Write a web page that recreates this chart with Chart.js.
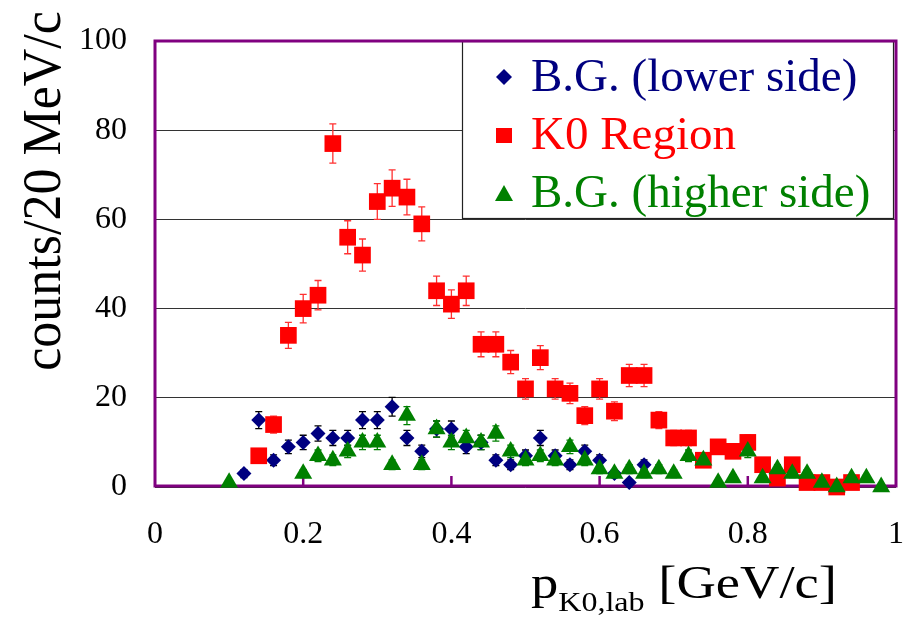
<!DOCTYPE html>
<html>
<head>
<meta charset="utf-8">
<script src="https://cdn.jsdelivr.net/npm/chart.js@4.4.1/dist/chart.umd.min.js"></script>
<style>
  html, body { margin: 0; padding: 0; background: #fff; }
  canvas { display: block; }
</style>
</head>
<body>
<canvas id="c" width="916" height="626"></canvas>
<script>
const seriesNames = ['B.G. (lower side)', 'K0 Region', 'B.G. (higher side)'];

// B.G. lower side
const xLow = [0.12, 0.14, 0.16, 0.18, 0.20, 0.22, 0.24, 0.26, 0.28, 0.30, 0.32, 0.34, 0.36, 0.38,
              0.40, 0.42, 0.44, 0.46, 0.48, 0.50, 0.52, 0.54, 0.56, 0.58, 0.60, 0.62, 0.64, 0.66];
const yLow = [3, 15, 6, 9, 10, 12, 11, 11, 15, 15, 18, 11, 8, 13,
              13, 9, 10, 6, 5, 7, 11, 7, 5, 8, 6, 3, 1, 5];
const eLow = [0.9, 1.9, 1.2, 1.5, 1.6, 1.7, 1.7, 1.7, 1.9, 1.9, 2.1, 1.7, 1.4, 1.8,
              1.8, 1.5, 1.6, 1.2, 1.1, 1.3, 1.7, 1.3, 1.1, 1.4, 1.2, 0.9, 0.5, 1.1];

// K0 region
const xK0 = [0.14, 0.16, 0.18, 0.20, 0.22, 0.24, 0.26, 0.28, 0.30, 0.32, 0.34, 0.36, 0.38, 0.40,
             0.42, 0.44, 0.46, 0.48, 0.50, 0.52, 0.54, 0.56, 0.58, 0.60, 0.62, 0.64, 0.66, 0.68,
             0.70, 0.72, 0.74, 0.76, 0.78, 0.80, 0.82, 0.84, 0.86, 0.88, 0.90, 0.92, 0.94];
const yK0 = [7, 14, 34, 40, 43, 77, 56, 52, 64, 67, 65, 59, 44, 41,
             44, 32, 32, 28, 22, 29, 22, 21, 16, 22, 17, 25, 25, 15,
             11, 11, 6, 9, 8, 10, 5, 2, 5, 1, 1, 0, 1];
const eK0 = [1.3, 1.9, 2.9, 3.2, 3.3, 4.4, 3.7, 3.6, 4.0, 4.1, 4.0, 3.8, 3.3, 3.2,
             3.3, 2.8, 2.8, 2.6, 2.3, 2.7, 2.3, 2.3, 2.0, 2.3, 2.1, 2.5, 2.5, 1.9,
             1.7, 1.7, 1.2, 1.5, 1.4, 1.6, 1.1, 0.7, 1.1, 0.5, 0.5, 0, 0.5];

// B.G. higher side
const xHigh = [0.10, 0.20, 0.22, 0.24, 0.26, 0.28, 0.30, 0.32, 0.34, 0.36, 0.38, 0.40, 0.42, 0.44,
               0.46, 0.48, 0.50, 0.52, 0.54, 0.56, 0.58, 0.60, 0.62, 0.64, 0.66, 0.68, 0.70, 0.72,
               0.74, 0.76, 0.78, 0.80, 0.82, 0.84, 0.86, 0.88, 0.90, 0.92, 0.94, 0.96, 0.98];
const yHigh = [1, 3, 7, 6, 8, 10, 10, 5, 16, 5, 13, 10, 11, 10,
               12, 8, 6, 7, 6, 9, 6, 4, 3, 4, 3, 4, 3, 7,
               6, 1, 2, 8, 2, 4, 3, 3, 1, 0, 2, 2, 0];
const eHigh = [0.5, 0.9, 1.3, 1.2, 1.4, 1.6, 1.6, 1.1, 2.0, 1.1, 1.8, 1.6, 1.7, 1.6,
               1.7, 1.4, 1.2, 1.3, 1.2, 1.5, 1.2, 1.0, 0.9, 1.0, 0.9, 1.0, 0.9, 1.3,
               1.2, 0.5, 0.7, 1.4, 0.7, 1.0, 0.9, 0.9, 0.5, 0, 0.7, 0.7, 0];

const xTicks = [0.2, 0.4, 0.6, 0.8];

const NAVY = '#000080', RED = '#ff0000', GREEN = '#008000', PURPLE = '#800080';
const serif = '"Liberation Serif", "DejaVu Serif", serif';

const toPoints = (xs, ys) => xs.map((x, i) => ({ x: x, y: ys[i] }));
const errSets = [eLow, eK0, eHigh];
const errColors = ['#000000', '#ff3030', GREEN];

function marker(ctx, style, x, y, color) {
  ctx.fillStyle = color;
  ctx.beginPath();
  if (style === 'rectRot') {
    ctx.moveTo(x, y - 8); ctx.lineTo(x + 8, y); ctx.lineTo(x, y + 8); ctx.lineTo(x - 8, y);
  } else if (style === 'rect') {
    ctx.rect(x - 8, y - 8, 16, 15);
  } else {
    ctx.moveTo(x, y - 9); ctx.lineTo(x + 9, y + 7); ctx.lineTo(x - 9, y + 7);
  }
  ctx.closePath();
  ctx.fill();
}

const decor = {
  id: 'decor',
  beforeDatasetsDraw(chart) {
    const { ctx, chartArea: a, scales: { x, y } } = chart;
    ctx.save();

    // error bars
    chart.data.datasets.forEach((ds, i) => {
      const errs = errSets[i];
      ctx.strokeStyle = errColors[i];
      ctx.lineWidth = 1.3;
      ds.data.forEach((p, j) => {
        const e = errs[j];
        if (!e) return;
        const px = x.getPixelForValue(p.x);
        const top = y.getPixelForValue(p.y + e);
        const bot = y.getPixelForValue(Math.max(0, p.y - e));
        ctx.beginPath();
        ctx.moveTo(px, top); ctx.lineTo(px, bot);
        ctx.moveTo(px - 3.5, top); ctx.lineTo(px + 3.5, top);
        ctx.moveTo(px - 3.5, bot); ctx.lineTo(px + 3.5, bot);
        ctx.stroke();
      });
    });

    // legend box
    const lx = 462, ly = 41, lw = 431, lh = 177;
    ctx.fillStyle = '#fff';
    ctx.fillRect(lx, ly, lw, lh);
    ctx.strokeStyle = '#222';
    ctx.lineWidth = 1.2;
    ctx.strokeRect(lx + 0.5, ly + 0.5, lw, lh);
    const rows = [
      { style: 'rectRot', color: NAVY, my: 77, by: 91 },
      { style: 'rect', color: RED, my: 136, by: 149 },
      { style: 'triangle', color: GREEN, my: 194, by: 207 }
    ];
    ctx.font = '47px ' + serif;
    ctx.textAlign = 'left';
    ctx.textBaseline = 'alphabetic';
    rows.forEach((r, i) => {
      marker(ctx, r.style, 504, r.my, r.color);
      ctx.fillStyle = r.color;
      ctx.fillText(seriesNames[i], 531, r.by);
    });

    // purple frame and inward ticks
    ctx.strokeStyle = PURPLE;
    ctx.lineWidth = 3;
    ctx.strokeRect(a.left, a.top, a.right - a.left, a.bottom - a.top - 1);
    ctx.lineWidth = 2.5;
    xTicks.forEach(v => {
      const px = x.getPixelForValue(v);
      ctx.beginPath();
      ctx.moveTo(px, a.bottom - 1);
      ctx.lineTo(px, a.bottom - 11);
      ctx.stroke();
    });
    ctx.restore();
  },
  afterDraw(chart) {
    const { ctx } = chart;
    ctx.save();
    ctx.fillStyle = '#000';

    // y title
    ctx.save();
    ctx.translate(60, 191);
    ctx.rotate(-Math.PI / 2);
    ctx.scale(1, 1.07);
    ctx.font = '52px ' + serif;
    ctx.textAlign = 'center';
    ctx.textBaseline = 'alphabetic';
    ctx.fillText('counts/20 MeV/c', 0, 0);
    ctx.restore();

    // x title with subscript
    const big = '46px ' + serif, small = '27px ' + serif;
    ctx.font = big;
    const wp = ctx.measureText('p').width;
    const wr = ctx.measureText(' [GeV/c]').width;
    ctx.font = small;
    const ws = ctx.measureText('K0,lab').width;
    const sx = 306 / (wp + ws + wr);
    ctx.translate(531, 598);
    ctx.scale(sx, 1);
    ctx.textAlign = 'left';
    ctx.font = big;
    ctx.fillText('p', 0, 0);
    ctx.font = small;
    ctx.fillText('K0,lab', wp, 13);
    ctx.font = big;
    ctx.fillText(' [GeV/c]', wp + ws, 0);
    ctx.restore();
  }
};

new Chart(document.getElementById('c'), {
  type: 'scatter',
  data: {
    datasets: [
      {
        label: seriesNames[0],
        data: toPoints(xLow, yLow),
        pointStyle: 'rectRot',
        pointRadius: 7.5,
        backgroundColor: NAVY,
        borderColor: NAVY,
        borderWidth: 0,
        clip: false,
        order: 3
      },
      {
        label: seriesNames[1],
        data: toPoints(xK0, yK0),
        pointStyle: 'rect',
        pointRadius: 11.8,
        backgroundColor: RED,
        borderColor: RED,
        borderWidth: 0,
        clip: false,
        order: 2
      },
      {
        label: seriesNames[2],
        data: toPoints(xHigh, yHigh),
        pointStyle: 'triangle',
        pointRadius: 10.4,
        backgroundColor: GREEN,
        borderColor: GREEN,
        borderWidth: 0,
        clip: false,
        order: 1
      }
    ]
  },
  options: {
    responsive: false,
    animation: false,
    events: [],
    layout: { padding: { left: 0, right: 20, top: 41, bottom: 0 } },
    plugins: {
      legend: { display: false },
      tooltip: { enabled: false }
    },
    scales: {
      x: {
        type: 'linear',
        min: 0,
        max: 1,
        afterFit: s => { s.height = 139; s.paddingLeft = 0; s.paddingRight = 0; },
        grid: { display: false, drawTicks: false },
        border: { display: false },
        ticks: {
          stepSize: 0.2,
          padding: 28,
          color: '#000',
          font: { family: serif, size: 32 },
          maxRotation: 0,
          callback: v => String(parseFloat(v.toFixed(1)))
        }
      },
      y: {
        min: 0,
        max: 100,
        afterFit: s => { s.width = 155; s.paddingTop = 0; s.paddingBottom = 0; },
        grid: { color: '#333', lineWidth: 1, drawTicks: false },
        border: { display: false },
        ticks: {
          stepSize: 20,
          padding: 28,
          color: '#000',
          font: { family: serif, size: 32 }
        }
      }
    }
  },
  plugins: [decor]
});
</script>
</body>
</html>
